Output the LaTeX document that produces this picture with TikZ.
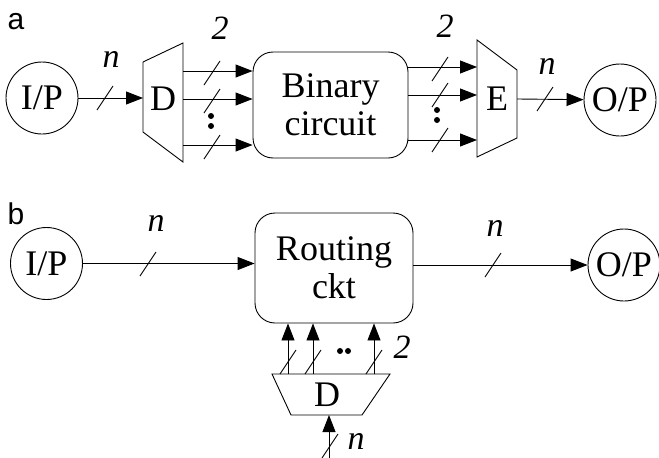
\documentclass[tikz,border=0pt]{standalone}
\usepackage{fontspec}
\setmainfont{Liberation Serif}
\newfontfamily\labfont{Liberation Sans}
\usetikzlibrary{arrows.meta,calc}
\begin{document}
\begin{tikzpicture}[x=1pt,y=-1pt,
  line width=0.9pt,
  every node/.style={font=\fontsize{36}{38}\selectfont},
  io/.style={draw,circle,minimum size=72pt,inner sep=0pt},
  blk/.style={draw,rounded corners=20pt,align=center,inner sep=0pt},
  arr/.style={-{Triangle[length=17pt,width=13pt]}},
  lbl/.style={font=\fontsize{34}{36}\selectfont\itshape,inner sep=0pt},
  panel/.style={font=\labfont\fontsize{30}{32}\selectfont,inner sep=0pt},
  bus/.pic={\draw (-8,12) -- (8,-12);},
  dot/.style={fill,circle,inner sep=0pt,minimum size=6pt}
]
\useasboundingbox (0,0) rectangle (659,458);

% ---------------- panel a ----------------
\node[panel] (la) at (16,22) {a};
\node[io] (ip1) at (42,98) {I/P};
\draw (143,62) -- (183,43) -- (183,162) -- (143,132) -- cycle;
\node (d1) at (163,99) {D};
\coordinate (d1in) at (143,98);
\node[blk,minimum width=155pt,minimum height=106pt] (bin) at (330.5,105) {Binary\\circuit};
\draw (477,40) -- (517,70) -- (517,138) -- (477,157) -- cycle;
\node (e1) at (497,99) {E};
\coordinate (e1out) at (517,99);
\node[io] (op1) at (620,100) {O/P};

\draw[arr] (ip1) -- (d1in);
\pic at (105,98) {bus};
\node[lbl] (n1) at (111,59) {n};

\coordinate (d1o1) at (183,71);
\coordinate (d1o2) at (183,99);
\coordinate (d1o3) at (183,145);
\draw[arr] (d1o1) -- (d1o1 -| bin.west);
\draw[arr] (d1o2) -- (d1o2 -| bin.west);
\draw[arr] (d1o3) -- (d1o3 -| bin.west);
\pic at (212,73) {bus};
\pic at (212,101) {bus};
\pic at (212,147) {bus};
\node[dot] at (211,116) {};
\node[dot] at (211,126) {};
\node[lbl] (t1) at (220,28) {2};

\coordinate (e1i1) at (477,67);
\coordinate (e1i2) at (477,95);
\coordinate (e1i3) at (477,140);
\draw[arr] (bin.east |- e1i1) -- (e1i1);
\draw[arr] (bin.east |- e1i2) -- (e1i2);
\draw[arr] (bin.east |- e1i3) -- (e1i3);
\pic at (440,69) {bus};
\pic at (440,95) {bus};
\pic at (440,140) {bus};
\node[dot] at (437,110) {};
\node[dot] at (437,120) {};
\node[lbl] (t2) at (445,26) {2};

\draw[arr] (e1out) -- (op1);
\pic at (545,99) {bus};
\node[lbl] (n2) at (547,66) {n};

% ---------------- panel b ----------------
\node[panel] (lb) at (16,214) {b};
\node[io] (ip2) at (46.5,263.5) {I/P};
\node[blk,minimum width=158pt,minimum height=110pt] (rt) at (334,268) {Routing\\ckt};
\node[io] (op2) at (624,265) {O/P};

\draw[arr] (ip2) -- (rt.west |- ip2);
\pic at (148,264) {bus};
\node[lbl] (n3) at (156,223) {n};
\draw[arr] (rt.east |- op2) -- (op2);
\pic at (493,265) {bus};
\node[lbl] (n4) at (495,228) {n};

\draw (272,374) -- (390,374) -- (362,415) -- (291,415) -- cycle;
\node (d2) at (327,395) {D};
\coordinate (d2o1) at (288,374);
\coordinate (d2o2) at (313,374);
\coordinate (d2o3) at (374,374);
\draw[arr] (d2o1) -- (d2o1 |- rt.south);
\draw[arr] (d2o2) -- (d2o2 |- rt.south);
\draw[arr] (d2o3) -- (d2o3 |- rt.south);
\pic at (288,362) {bus};
\pic at (313,362) {bus};
\pic at (374,362) {bus};
\node[dot] at (340,351) {};
\node[dot] at (348,351) {};
\node[lbl] (t3) at (402,347) {2};

\coordinate (d2in) at (329,458);
\draw[arr] (d2in) -- (329,415);
\pic at (330,446) {bus};
\node[lbl] (n5) at (356,441) {n};
\end{tikzpicture}
\end{document}
